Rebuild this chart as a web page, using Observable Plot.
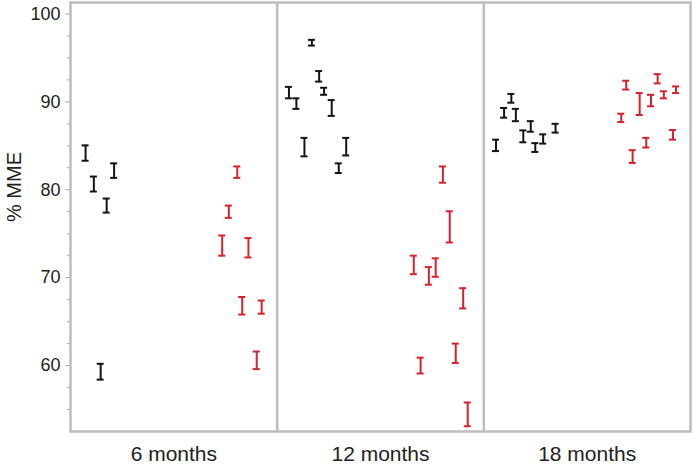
<!DOCTYPE html>
<html>
<head>
<meta charset="utf-8">
<script src="https://cdn.jsdelivr.net/npm/d3@7"></script>
<script src="https://cdn.jsdelivr.net/npm/@observablehq/plot@0.6"></script>
<style>
  html, body { margin: 0; padding: 0; background: #fff; }
  #chart { width: 692px; height: 472px; }
</style>
</head>
<body>
<div id="chart"></div>
<script>
// Panels (time points)
const groups = ["6 months", "12 months", "18 months"];
const seriesNames = ["control", "treated"];
const seriesColors = ["#141414", "#d8202f"];

// Error bars: panel index, series, relative position within panel, lower and upper value (% MME)
const barGroup  = [0,0,0,0,0, 0,0,0,0,0,0,0,
                   1,1,1,1,1,1,1,1,1, 1,1,1,1,1,1,1,1,1,
                   2,2,2,2,2,2,2,2,2, 2,2,2,2,2,2,2,2,2,2];
const barSeries = ["control","control","control","control","control",
                   "treated","treated","treated","treated","treated","treated","treated",
                   "control","control","control","control","control","control","control","control","control",
                   "treated","treated","treated","treated","treated","treated","treated","treated","treated",
                   "control","control","control","control","control","control","control","control","control",
                   "treated","treated","treated","treated","treated","treated","treated","treated","treated","treated"];
const barPos = [0.073,0.113,0.211,0.175,0.146,
                0.807,0.766,0.734,0.861,0.831,0.925,0.901,
                0.168,0.203,0.057,0.093,0.227,0.264,0.132,0.334,0.298,
                0.802,0.835,0.661,0.734,0.767,0.900,0.694,0.864,0.922,
                0.059,0.098,0.133,0.155,0.191,0.227,0.249,0.287,0.347,
                0.689,0.841,0.930,0.871,0.809,0.754,0.665,0.786,0.720,0.915];
const barLow  = [83.3,79.8,81.35,77.4,58.4,
                 81.35,76.8,72.5,72.3,65.8,65.9,59.6,
                 96.4,92.3,90.4,89.2,90.8,88.4,83.8,83.9,81.9,
                 80.8,74.0,70.4,69.2,70.1,66.5,59.1,60.3,53.1,
                 84.4,88.2,89.9,87.8,85.4,86.6,84.3,85.25,86.5,
                 91.4,92.1,91.0,90.4,89.5,88.5,87.7,84.8,83.05,85.7];
const barHigh = [85.05,81.5,83.0,79.0,60.2,
                 82.65,78.2,74.8,74.5,67.8,67.4,61.6,
                 97.05,93.5,91.7,90.4,91.6,90.2,85.9,85.9,83.0,
                 82.65,77.55,72.5,71.2,72.2,68.8,60.9,62.5,55.8,
                 85.7,89.3,90.9,89.2,86.75,87.8,85.3,86.3,87.5,
                 92.4,93.15,91.75,91.2,90.8,91.0,88.65,85.9,84.5,86.8];

// Y axis ticks
const majorTicks = [60, 70, 80, 90, 100];
const minorTicks = d3.range(55, 100.1, 2.5).filter(v => !majorTicks.includes(v));
const yLabel = "% MME";

const rows = barPos.map((p, i) => ({
  xp: barGroup[i] + p,
  series: barSeries[i],
  lo: barLow[i],
  hi: barHigh[i]
}));

const frameColor = "#bdbdbd";
const chart = Plot.plot({
  width: 692,
  height: 472,
  marginLeft: 70,
  marginRight: 2,
  marginTop: 2,
  marginBottom: 41,
  style: { fontFamily: "'Liberation Sans', Arial, sans-serif", background: "#fff", color: "#222" },
  x: { domain: [0, groups.length] },
  y: { domain: [52.5, 101.3] },
  color: { domain: seriesNames, range: seriesColors },
  marks: [
    Plot.axisY(minorTicks, { tickSize: 3, tickFormat: () => "", stroke: "#aaa", label: null }),
    Plot.axisY(majorTicks, { tickSize: 5, tickPadding: 5, fontSize: 18, stroke: "#aaa", fill: "#222", label: null }),
    Plot.axisX(groups.map((g, i) => i + 0.5), {
      tickSize: 0, tickPadding: 15, fontSize: 21, fill: "#222", label: null,
      tickFormat: v => groups[Math.floor(v)]
    }),
    Plot.ruleX(d3.range(1, groups.length), { stroke: frameColor, strokeWidth: 2.5 }),
    Plot.frame({ stroke: frameColor, strokeWidth: 2.5 }),
    Plot.ruleX(rows, { x: "xp", y1: "lo", y2: "hi", stroke: "series", strokeWidth: 2 }),
    Plot.ruleY(rows, { y: "lo", x1: "xp", x2: "xp", insetLeft: -3.5, insetRight: -3.5, stroke: "series", strokeWidth: 2 }),
    Plot.ruleY(rows, { y: "hi", x1: "xp", x2: "xp", insetLeft: -3.5, insetRight: -3.5, stroke: "series", strokeWidth: 2 })
  ]
});

d3.select(chart).append("text")
  .attr("transform", "translate(21,187) rotate(-90)")
  .attr("text-anchor", "middle")
  .attr("font-size", 20)
  .attr("fill", "#222")
  .text(yLabel);

document.getElementById("chart").appendChild(chart);
</script>
</body>
</html>
